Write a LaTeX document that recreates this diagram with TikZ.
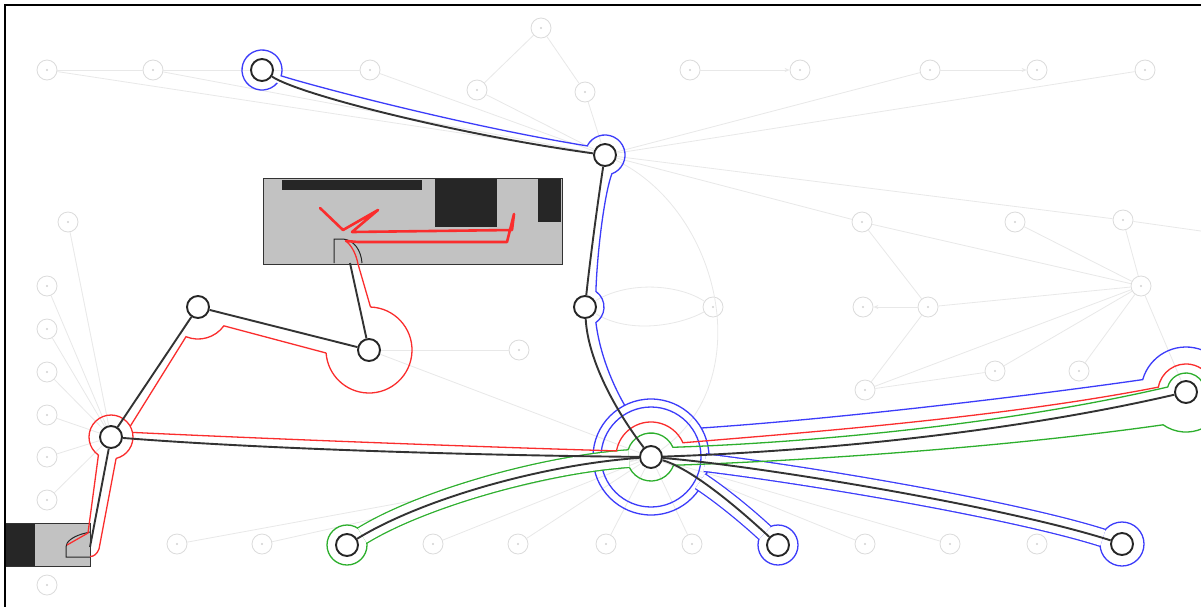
\documentclass[tikz,border=0pt]{standalone}
\usetikzlibrary{arrows.meta}
\definecolor{lblue}{RGB}{60,60,250}
\definecolor{lred}{RGB}{250,45,45}
\definecolor{lgreen}{RGB}{45,175,45}
\begin{document}
\begin{tikzpicture}[x=1pt,y=-1pt,
  ghost/.style={circle, draw=black!14, line width=0.8pt, fill=white, minimum size=20pt, inner sep=0pt,
    path picture={\fill[black!18] (path picture bounding box.center) circle[radius=1.1pt];}},
  stopnode/.style={circle, draw=black!85, line width=1.9pt, fill=white, minimum size=22pt, inner sep=0pt},
  bgedge/.style={draw=black!9, line width=0.8pt},
  bgarrow/.style={bgedge, -{Stealth[length=5pt,width=4pt]}},
  routeline/.style={draw=black!80, line width=1.9pt},
  bluepath/.style={draw=lblue, line width=1.3pt},
  redpath/.style={draw=lred, line width=1.3pt},
  greenpath/.style={draw=lgreen, line width=1.3pt},
  bluelane/.style={bluepath, double=white, double distance=16.4pt},
  greenlane/.style={greenpath, double=white, double distance=16.4pt},
  darkfill/.style={fill=black!85},
  panel/.style={draw=black!80, line width=0.9pt, fill=black!24},
  tabshape/.style={draw=black!85, line width=1pt},
  scribble/.style={draw=lred, line width=2.6pt, line join=round, line cap=round}
]
\useasboundingbox (0,0) rectangle (1201,606);
\clip (0,0) rectangle (1201,606);
\fill[white] (0,0) rectangle (1201,606);

% faint background nodes
\node[ghost] (g1) at (47,70) {};
\node[ghost] (g2) at (153,70) {};
\node[ghost] (g3) at (370,70) {};
\node[ghost] (g4) at (541,28) {};
\node[ghost] (g5) at (477,90) {};
\node[ghost] (g6) at (585,92) {};
\node[ghost] (g7) at (690,70) {};
\node[ghost] (g8) at (800,70) {};
\node[ghost] (g9) at (930,70) {};
\node[ghost] (g10) at (1037,70) {};
\node[ghost] (g11) at (1145,70) {};
\node[ghost] (g12) at (68,222) {};
\node[ghost] (g13) at (862,222) {};
\node[ghost] (g14) at (1015,222) {};
\node[ghost] (g15) at (1123,220) {};
\node[ghost] (g16) at (1141,286) {};
\node[ghost] (g17) at (863,307) {};
\node[ghost] (g18) at (928,307) {};
\node[ghost] (g19) at (713,307) {};
\node[ghost] (g20) at (519,350) {};
\node[ghost] (g21) at (865,390) {};
\node[ghost] (g22) at (995,371) {};
\node[ghost] (g23) at (1079,371) {};
\node[ghost] (g24) at (47,286) {};
\node[ghost] (g25) at (47,329) {};
\node[ghost] (g26) at (47,372) {};
\node[ghost] (g27) at (47,415) {};
\node[ghost] (g28) at (47,457) {};
\node[ghost] (g29) at (47,500) {};
\node[ghost] (g30) at (47,585) {};
\node[ghost] (g31) at (177,544) {};
\node[ghost] (g32) at (262,544) {};
\node[ghost] (g33) at (433,544) {};
\node[ghost] (g34) at (518,544) {};
\node[ghost] (g35) at (606,544) {};
\node[ghost] (g36) at (692,544) {};
\node[ghost] (g37) at (865,544) {};
\node[ghost] (g38) at (950,544) {};
\node[ghost] (g39) at (1037,544) {};

% highlighted stops
\node[stopnode] (A) at (262,70) {};
\node[stopnode] (B) at (605,155) {};
\node[stopnode] (C) at (585,307) {};
\node[stopnode] (D) at (651,457) {};
\node[stopnode] (E) at (198,307) {};
\node[stopnode] (F) at (369,350) {};
\node[stopnode] (G) at (111,437) {};
\node[stopnode] (H) at (347,545) {};
\node[stopnode] (I) at (778,545) {};
\node[stopnode] (J) at (1122,544) {};
\node[stopnode] (K) at (1186,392) {};

% faint background edges
\draw[bgedge] (g1) -- (g2);
\draw[bgedge] (g2) -- (A);
\draw[bgedge] (A) -- (g3);
\draw[bgedge] (g1) -- (B);
\draw[bgedge] (g2) -- (B);
\draw[bgedge] (g3) -- (B);
\draw[bgedge] (g4) -- (g5);
\draw[bgedge] (g4) -- (g6);
\draw[bgedge] (g6) -- (B);
\draw[bgedge] (g5) -- (B);
\draw[bgarrow] (g7) -- (g8);
\draw[bgarrow] (g9) -- (g10);
\draw[bgedge] (B) -- (g9);
\draw[bgedge] (B) -- (g11);
\draw[bgedge] (B) -- (g13);
\draw[bgedge] (B) -- (g15);
\coordinate (eastA) at (1215,233);
\draw[bgedge] (g15) -- (eastA);
\draw[bgedge] (B) .. controls (720,210) and (760,380) .. (D);
\draw[bgedge] (C) .. controls (630,280) and (680,285) .. (g19);
\draw[bgedge] (C) .. controls (630,335) and (680,325) .. (g19);
\draw[bgedge] (g13) -- (g16);
\draw[bgedge] (g14) -- (g16);
\draw[bgedge] (g15) -- (g16);
\draw[bgedge] (g18) -- (g16);
\draw[bgedge] (g13) -- (g18);
\draw[bgarrow] (g18) -- (g17);
\draw[bgedge] (g18) -- (g21);
\draw[bgedge] (g21) -- (g22);
\draw[bgedge] (g22) -- (g16);
\draw[bgedge] (g21) -- (g16);
\draw[bgedge] (g23) -- (g16);
\draw[bgedge] (g16) -- (K);
\draw[bgedge] (F) -- (g20);
\draw[bgedge] (F) -- (D);
\foreach \n in {g12,g24,g25,g26,g27,g28,g29} \draw[bgedge] (\n) -- (G);
\foreach \n in {g31,g32,g33,g34,g35,g36,g37,g38} \draw[bgedge] (\n) -- (D);

% grey panels with their tabs
\draw[panel] (263,178) rectangle (562,264);
\fill[darkfill] (282,180) rectangle (422,190);
\fill[darkfill] (435,179) rectangle (497,227);
\fill[darkfill] (538,179) rectangle (561,222);
\draw[tabshape] (334,263) -- (334,239) -- (343,239) .. controls (354,240) and (361,250) .. (362,263);
\coordinate (tab1) at (350,263);

\draw[panel] (5,523) rectangle (90,566);
\fill[darkfill] (5.5,523.5) rectangle (35,565.5);
\draw[tabshape] (90,532) -- (82,534) .. controls (72,537) and (66,542) .. (66,547) -- (66,557) -- (90,557);
\coordinate (tab2) at (90,547);

% blue route rings
\draw[bluepath] (D.center) circle[radius=58];
\draw[bluepath] (D.center) circle[radius=50];
\draw[bluepath] (I.center) circle[radius=20];
\draw[bluepath] (J.center) circle[radius=22];
% green end ring
\draw[greenpath] (H.center) circle[radius=20];

% two-sided lanes
\draw[bluelane, shorten >=17.9pt] (700.2,481.2) .. controls (725.7,498.1) and (752.2,521) .. (I.center);
\draw[bluelane, shorten >=20.1pt] (704.8,462.6) .. controls (822.2,477) and (1018.3,511) .. (J.center);
\draw[greenlane, shorten <=17.9pt, shorten >=22.1pt] (H.center) .. controls (420,500) and (540,465) .. (D.center);

% blue outline A-B-C-D and on to K
\draw[bluepath] (A.center) ++(40:20) arc[start angle=40, end angle=377, radius=20]
  .. controls (320,88) and (470,127) .. (587.2,145.9)
  arc[start angle=207, end angle=430, radius=20]
  .. controls (604,195) and (597,255) .. (595.9,291.4)
  arc[start angle=-55, end angle=55, radius=19]
  .. controls (600,355) and (613,385) .. (624.7,405.3);
\draw[bluepath] (701.2,428) .. controls (850,418) and (1050,393) .. (1142.7,379.6)
  arc[start angle=196, end angle=380, radius=45];

% green outline D-K
\draw[greenpath] (D.center) ++(197.9:24) arc[start angle=197.9, end angle=336.1, radius=24]
  .. controls (800,443) and (1000,426) .. (1167.7,387)
  arc[start angle=195.3, end angle=380, radius=19];
\draw[greenpath] (D.center) ++(153.9:24) arc[start angle=153.9, end angle=20.1, radius=24]
  .. controls (800,461) and (1000,448) .. (1163.1,424.8)
  arc[start angle=125, end angle=30, radius=40];

% red outline
\draw[redpath] (G.center) ++(124.8:22) arc[start angle=124.8, end angle=436.6, radius=22];
\draw[redpath] (116.1,458.4) -- (99,549) .. controls (97,554) and (94,556.5) .. (90,556.5);
\draw[redpath] (98.4,455.1) -- (88,533) -- (67,545);
\draw[redpath] (130.2,426.3) -- (186,336.7)
  arc[start angle=112, end angle=36, radius=32] -- (326.1,353);
\draw[redpath] (F.center) ++(272:43) arc[start angle=272, end angle=536, radius=43];
\draw[redpath] (370.5,307) -- (358,264) .. controls (356,254) and (352,246) .. (346,241);
\draw[redpath] (132.5,432.4) .. controls (250,438) and (450,446) .. (616.5,450.9)
  arc[start angle=190, end angle=336, radius=35]
  .. controls (800,433) and (1000,418) .. (1158.4,387.1)
  arc[start angle=190, end angle=380, radius=28];
\draw[scribble] (320,208) -- (343,230) -- (378,210) -- (352,232) -- (512,230) -- (514,214)
  -- (507,242) -- (358,242) -- (346,241);

% black route connectors
\draw[routeline] (A) .. controls (300,95) and (460,135) .. (B);
\draw[routeline] (B) .. controls (598,200) and (590,260) .. (C);
\draw[routeline] (C) .. controls (588,360) and (615,410) .. (D);
\draw[routeline] (D) .. controls (800,452) and (1000,435) .. (K);
\draw[routeline] (D) .. controls (690,468) and (735,505) .. (I);
\draw[routeline] (D) .. controls (750,465) and (1000,505) .. (J);
\draw[routeline] (D) .. controls (540,465) and (420,500) .. (H);
\draw[routeline] (G) .. controls (250,448) and (450,455) .. (D);
\draw[routeline] (G) -- (E);
\draw[routeline] (E) -- (F);
\draw[routeline] (F) -- (tab1);
\draw[routeline] (G) -- (tab2);

% frame
\draw[black, line width=1.5pt] (5,5) rectangle (1240,640);
\end{tikzpicture}
\end{document}
